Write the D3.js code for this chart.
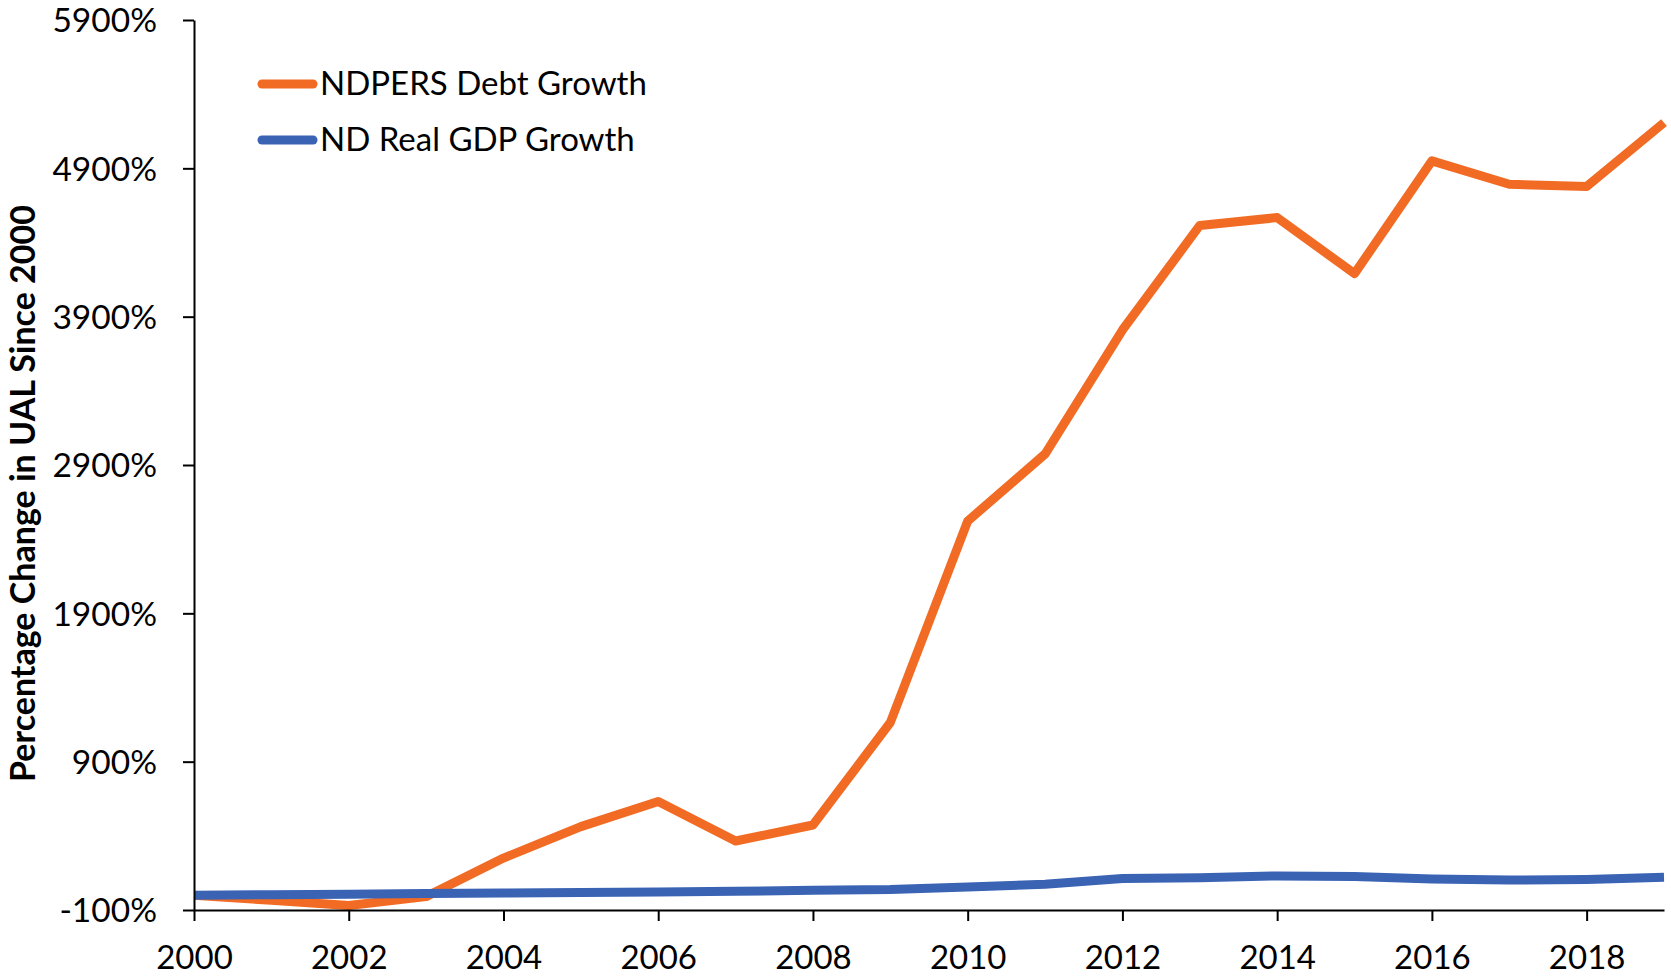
<!DOCTYPE html>
<html>
<head>
<meta charset="utf-8">
<script src="https://cdn.jsdelivr.net/npm/d3@7"></script>
<style>
  html, body { margin: 0; padding: 0; background: #fff; }
  svg { display: block; }
  text { font-family: Lato, "Noto Sans", sans-serif; fill: #000; }
</style>
</head>
<body>
<svg id="chart" width="1671" height="980"></svg>
<script>
const years = [2000, 2001, 2002, 2003, 2004, 2005, 2006, 2007, 2008, 2009,
               2010, 2011, 2012, 2013, 2014, 2015, 2016, 2017, 2018, 2019];
const debtGrowth = [0, -35, -70, -10, 250, 462, 632, 365, 473, 1164,
                    2522, 2974, 3810, 4515, 4568, 4190, 4950, 4793, 4777, 5208];
const gdpGrowth = [0, 3, 6, 12, 14, 18, 22, 26, 33, 38,
                   55, 73, 113, 118, 130, 126, 109, 102, 106, 120];
const seriesNames = ["NDPERS Debt Growth", "ND Real GDP Growth"];
const seriesColors = ["#F26B24", "#3A63B4"];
const yTickValues = [-100, 900, 1900, 2900, 3900, 4900, 5900];
const xTickValues = [2000, 2002, 2004, 2006, 2008, 2010, 2012, 2014, 2016, 2018];
const yTitle = "Percentage Change in UAL Since 2000";

const svg = d3.select("#chart");
const mLeft = 194, mRight = 1664, mTop = 20, mBottom = 910;

const x = d3.scaleLinear().domain([2000, 2019]).range([mLeft, mRight]);
const y = d3.scaleLinear().domain([-100, 5900]).range([mBottom, mTop]);

// Lines
const line = d3.line().x((d, i) => x(years[i])).y(d => y(d));
[debtGrowth, gdpGrowth].forEach((vals, k) => {
  svg.append("path")
    .datum(vals)
    .attr("d", line)
    .attr("fill", "none")
    .attr("stroke", seriesColors[k])
    .attr("stroke-width", 9)
    .attr("stroke-linejoin", "round")
    .attr("stroke-linecap", "butt");
});

// Y axis
const yAxis = svg.append("g")
  .attr("transform", `translate(${mLeft},0)`)
  .call(d3.axisLeft(y).tickValues(yTickValues).tickFormat(d => d + "%")
        .tickSize(11).tickPadding(26).tickSizeOuter(0));
yAxis.selectAll("text").style("font-size", "33.5px").attr("dy", "0.35em");

// X axis
const xAxis = svg.append("g")
  .attr("transform", `translate(0,${mBottom})`)
  .call(d3.axisBottom(x).tickValues(xTickValues).tickFormat(d3.format("d"))
        .tickSize(11).tickSizeOuter(0));
xAxis.selectAll("text").style("font-size", "33px").attr("y", 59).attr("dy", null);

[yAxis, xAxis].forEach(g => {
  g.selectAll(".domain").attr("stroke", "#000").attr("stroke-width", 2);
  g.selectAll(".tick line").attr("stroke", "#000").attr("stroke-width", 2);
  g.attr("font-family", null).attr("font-size", null);
});

// Y axis title
svg.append("text")
  .attr("transform", `translate(35,${(206 + 781) / 2}) rotate(-90)`)
  .attr("text-anchor", "middle")
  .style("font-size", "34px")
  .style("font-weight", "bold")
  .text(yTitle);

// Legend
const legendY = [84, 140];
seriesNames.forEach((name, k) => {
  svg.append("line")
    .attr("x1", 262).attr("x2", 313)
    .attr("y1", legendY[k]).attr("y2", legendY[k])
    .attr("stroke", seriesColors[k])
    .attr("stroke-width", 9)
    .attr("stroke-linecap", "round");
  svg.append("text")
    .attr("x", 320).attr("y", legendY[k] + 11)
    .style("font-size", "33px")
    .text(name);
});
</script>
</body>
</html>
